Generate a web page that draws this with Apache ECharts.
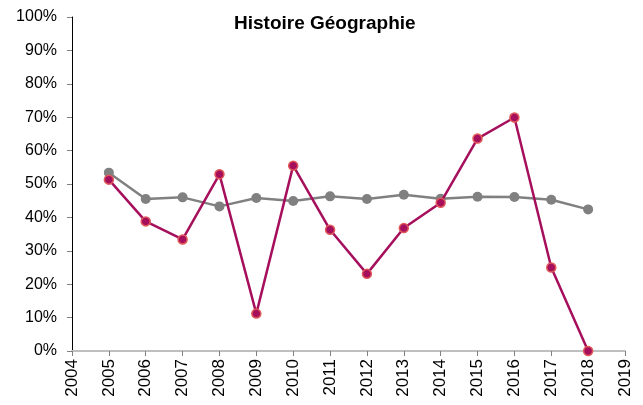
<!DOCTYPE html>
<html><head><meta charset="utf-8">
<script src="https://cdn.jsdelivr.net/npm/echarts@6/dist/echarts.min.js"></script>
<style>html,body{margin:0;padding:0;background:#fff}#c{width:643px;height:405px}</style>
</head><body><div id="c"></div>
<script>
var years = [2005,2006,2007,2008,2009,2010,2011,2012,2013,2014,2015,2016,2017,2018];
var seriesA = [51.3,38.8,33.4,52.9,11.2,55.5,36.3,23.1,36.8,44.4,63.6,69.9,25.0,0.0];
var seriesB = [53.4,45.5,46.0,43.3,45.8,44.9,46.3,45.5,46.8,45.6,46.2,46.1,45.3,42.4];
var titleText = 'Histoire Géographie';
function pairs(v){return years.map(function(y,i){return [y,v[i]];});}
var font = 'Liberation Sans, Arial, sans-serif';
var chart = echarts.init(document.getElementById('c'));
chart.setOption({
  animation:false,
  title:{text:titleText,left:229,top:9,textStyle:{fontFamily:font,fontSize:19,fontWeight:'bold',color:'#000'}},
  grid:{left:72,right:18,top:17,bottom:54,containLabel:false},
  xAxis:{type:'value',min:2004,max:2019,interval:1,
    axisLine:{lineStyle:{color:'#bfbfbf',width:2}},
    axisTick:{show:true,length:5,lineStyle:{color:'#808080'}},
    splitLine:{show:false},
    axisLabel:{rotate:90,fontFamily:font,fontSize:17,color:'#000',margin:8,formatter:function(v){return String(v);}}},
  yAxis:{type:'value',min:0,max:100,interval:10,
    axisLine:{show:true,lineStyle:{color:'#000',width:1}},
    axisTick:{show:true,length:5,lineStyle:{color:'#808080'}},
    splitLine:{show:false},
    axisLabel:{fontFamily:font,fontSize:16,color:'#000',margin:15,formatter:'{value}%'}},
  series:[
    {type:'line',data:pairs(seriesB),symbol:'circle',symbolSize:10,z:2,
     lineStyle:{color:'#808080',width:2.5},itemStyle:{color:'#808080'}},
    {type:'line',data:pairs(seriesA),symbol:'circle',symbolSize:9,z:3,
     lineStyle:{color:'#A50F5B',width:2.5},itemStyle:{color:'#A50F5B',borderColor:'#E0585A',borderWidth:1.5}}
  ]
});
</script></body></html>
